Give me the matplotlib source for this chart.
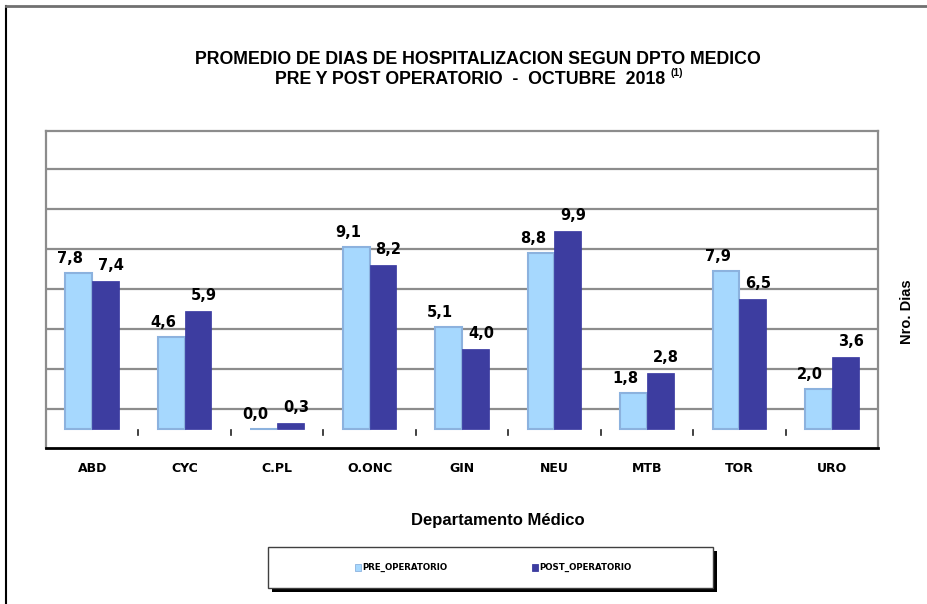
import matplotlib
matplotlib.use("Agg")
import matplotlib.pyplot as plt
from matplotlib.patches import Rectangle
import numpy as np

# Promedio de dias de hospitalizacion, octubre 2018
departamentos = ["ABD", "CYC", "C.PL", "O.ONC", "GIN", "NEU", "MTB", "TOR", "URO"]
pre_operatorio = [7.8, 4.6, 0.0, 9.1, 5.1, 8.8, 1.8, 7.9, 2.0]
post_operatorio = [7.4, 5.9, 0.3, 8.2, 4.0, 9.9, 2.8, 6.5, 3.6]

PRE_COLOR = "#A6D8FE"
PRE_EDGE = "#8CB2DE"
POST_COLOR = "#3D3DA0"
TITLE_FONT = "Liberation Sans"

fig = plt.figure(figsize=(9.28, 6.04), dpi=100)

# marco exterior (solo izquierda y arriba)
fig.add_artist(plt.Line2D([6 / 928, 6 / 928], [0, 1 - 6 / 604], color="black", lw=1.5))
fig.add_artist(plt.Line2D([6 / 928, 1], [1 - 6 / 604, 1 - 6 / 604], color="#707070", lw=2))

# area del grafico
ax = fig.add_axes([46 / 928, 1 - 448 / 604, (878 - 46) / 928, (448 - 131) / 604])
ax.set_xlim(-0.5, len(departamentos) - 0.5)
ax.set_ylim(-0.95, 14.9)

x = np.arange(len(departamentos))
w = 0.29
ax.bar(x - w / 2, pre_operatorio, width=w, color=PRE_COLOR, edgecolor=PRE_EDGE,
       linewidth=1.5, zorder=3, label="PRE_OPERATORIO")
ax.bar(x + w / 2, post_operatorio, width=w, color=POST_COLOR, edgecolor="#3535A0",
       linewidth=0.5, zorder=3, label="POST_OPERATORIO")

# etiquetas de valor
for xi, v in zip(x, pre_operatorio):
    ax.annotate(f"{v:.1f}".replace(".", ","), (xi - w / 2, v), xytext=(-6, 5),
                textcoords="offset points", ha="center", va="bottom",
                fontsize=10.5, fontweight="bold", family="DejaVu Sans", zorder=5)
for xi, v in zip(x, post_operatorio):
    ax.annotate(f"{v:.1f}".replace(".", ","), (xi + w / 2, v), xytext=(4, 6),
                textcoords="offset points", ha="center", va="bottom",
                fontsize=10.5, fontweight="bold", family="DejaVu Sans", zorder=5)

# lineas de division (pared del fondo)
ax.set_yticks([1, 3, 5, 7, 9, 11, 13])
ax.yaxis.grid(True, color="#8C8C8C", linewidth=1.6, zorder=0)
ax.tick_params(axis="y", length=0, labelleft=False)
ax.set_xticks(x)
ax.set_xticklabels(departamentos, fontsize=9, fontweight="bold", family="DejaVu Sans")
ax.tick_params(axis="x", length=0, pad=10)

# marcas en la base entre categorias
for b in np.arange(-0.5, len(departamentos), 1.0):
    ax.plot([b, b], [-0.05, -0.3], color="#202020", lw=1.2, zorder=2, clip_on=False)

for side in ["left", "top", "right"]:
    ax.spines[side].set_color("#8C8C8C")
    ax.spines[side].set_linewidth(1.6)
ax.spines["bottom"].set_color("black")
ax.spines["bottom"].set_linewidth(2)

fig.text(498 / 928, 1 - 520 / 604, "Departamento Médico", ha="center", va="center",
         fontsize=12, fontweight="bold", family="Liberation Sans")
fig.text(907 / 928, 1 - 312 / 604, "Nro. Dias", rotation=90, ha="center", va="center",
         fontsize=10.5, fontweight="bold", family="Liberation Sans")

# titulo
fig.text(478 / 928, 1 - 60 / 604, "PROMEDIO DE DIAS DE HOSPITALIZACION SEGUN DPTO MEDICO",
         ha="center", va="center", fontsize=12.8, fontweight="bold", family=TITLE_FONT)
fig.text(470 / 928, 1 - 80 / 604, "PRE Y POST OPERATORIO  -  OCTUBRE  2018",
         ha="center", va="center", fontsize=12.8, fontweight="bold", family=TITLE_FONT)
fig.text(671 / 928, 1 - 73 / 604, "(1)", ha="left", va="center",
         fontsize=7.5, fontweight="bold", family=TITLE_FONT)

# leyenda con sombra
lx0, lx1, ly0, ly1 = 268, 713, 547, 588
fig.add_artist(Rectangle((lx0 / 928 + 4 / 928, 1 - (ly1 + 4) / 604),
                         (lx1 - lx0) / 928, (ly1 - ly0) / 604,
                         transform=fig.transFigure, facecolor="black", edgecolor="none"))
fig.add_artist(Rectangle((lx0 / 928, 1 - ly1 / 604), (lx1 - lx0) / 928, (ly1 - ly0) / 604,
                         transform=fig.transFigure, facecolor="white", edgecolor="#404040",
                         linewidth=1))
for sx, color, edge, name in [(355, PRE_COLOR, PRE_EDGE, "PRE_OPERATORIO"),
                              (532, POST_COLOR, POST_COLOR, "POST_OPERATORIO")]:
    fig.add_artist(Rectangle((sx / 928, 1 - 571 / 604), 6 / 928, 7 / 604,
                             transform=fig.transFigure, facecolor=color, edgecolor=edge,
                             linewidth=0.6))
    fig.text((sx + 7) / 928, 1 - 567.5 / 604, name, ha="left", va="center",
             fontsize=6.2, fontweight="bold", family="DejaVu Sans")

fig.savefig("out.png", dpi=100)
